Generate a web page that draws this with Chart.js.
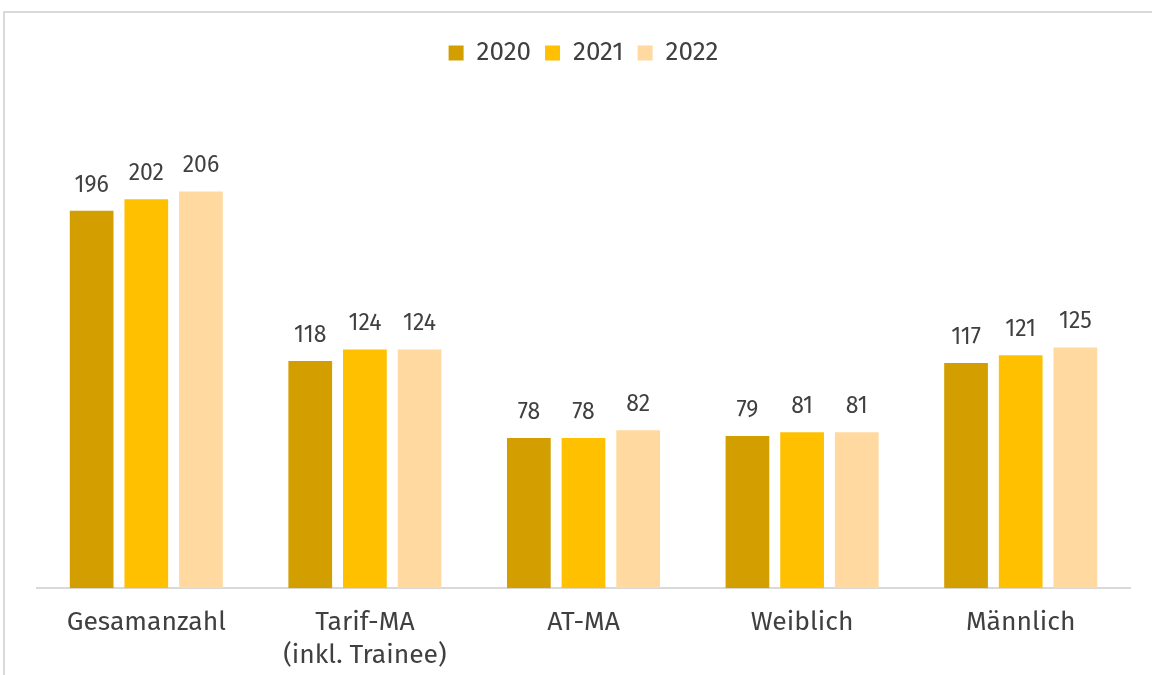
<!DOCTYPE html>
<html>
<head>
<meta charset="utf-8">
<script src="https://cdn.jsdelivr.net/npm/chart.js@4"></script>
<style>
  html, body { margin: 0; padding: 0; background: #fff; }
  body { width: 1152px; height: 675px; overflow: hidden; position: relative; }
  .rahmen {
    position: absolute; left: 3px; top: 11px; width: 1160px; height: 680px;
    border: 2px solid #d9d9d9; box-sizing: border-box;
  }
  #chartWrap { position: absolute; left: 0; top: 0; width: 1152px; height: 682px; }
</style>
</head>
<body>
<div class="rahmen"></div>
<div id="chartWrap"><canvas id="mitarbeiterChart"></canvas></div>
<script>
// Kategorien und Werte
const kategorien = ['Gesamanzahl', ['Tarif-MA', '(inkl. Trainee)'], 'AT-MA', 'Weiblich', 'Männlich'];
const jahre = ['2020', '2021', '2022'];
const werte2020 = [196, 118, 78, 79, 117];
const werte2021 = [202, 124, 78, 81, 121];
const werte2022 = [206, 124, 82, 81, 125];
const farben = ['#D29E00', '#FFC000', '#FFD9A0'];

const schrift = "'Fira Sans', 'Open Sans', 'Noto Sans', sans-serif";
const textFarbe = '#404040';

// Werte über den Balken zeichnen
const werteLabels = {
    id: 'werteLabels',
    afterDatasetsDraw(chart) {
        const ctx = chart.ctx;
        ctx.save();
        ctx.font = '23px ' + schrift;
        ctx.fillStyle = textFarbe;
        ctx.textAlign = 'center';
        ctx.textBaseline = 'bottom';
        chart.data.datasets.forEach((ds, i) => {
            chart.getDatasetMeta(i).data.forEach((bar, j) => {
                ctx.fillText(ds.data[j], bar.x, bar.y - 14);
            });
        });
        ctx.restore();
    }
};

document.addEventListener('DOMContentLoaded', function () {
    const ctx = document.getElementById('mitarbeiterChart').getContext('2d');
    new Chart(ctx, {
        type: 'bar',
        data: {
            labels: kategorien,
            datasets: [
                { label: jahre[0], data: werte2020, backgroundColor: farben[0] },
                { label: jahre[1], data: werte2021, backgroundColor: farben[1] },
                { label: jahre[2], data: werte2022, backgroundColor: farben[2] }
            ]
        },
        options: {
            responsive: true,
            maintainAspectRatio: false,
            animation: false,
            categoryPercentage: 0.75,
            barPercentage: 0.8,
            layout: { padding: { left: 37, right: 22, top: 26, bottom: 0 } },
            plugins: {
                legend: {
                    position: 'top',
                    labels: {
                        boxWidth: 15,
                        boxHeight: 15,
                        color: textFarbe,
                        font: { family: schrift, size: 26 },
                        padding: 14
                    }
                },
                tooltip: { enabled: false }
            },
            scales: {
                x: {
                    grid: { display: false },
                    border: { color: '#d9d9d9', width: 2 },
                    ticks: {
                        color: textFarbe,
                        font: { family: schrift, size: 26.5, lineHeight: 1.28 },
                        padding: 9,
                        maxRotation: 0
                    }
                },
                y: {
                    display: false,
                    min: 0,
                    max: 266
                }
            }
        },
        plugins: [werteLabels]
    });
});
</script>
</body>
</html>
